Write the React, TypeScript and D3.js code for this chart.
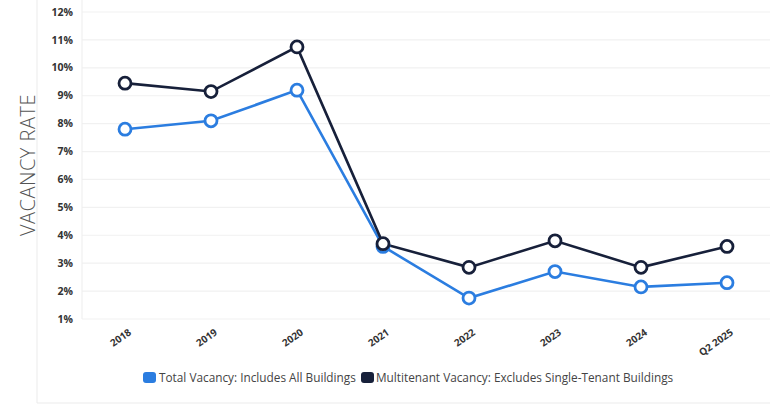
import React from "react";
import * as d3 from "d3";

const categories = ["2018", "2019", "2020", "2021", "2022", "2023", "2024", "Q2 2025"];
const totalVacancy = [7.8, 8.1, 9.2, 3.6, 1.75, 2.7, 2.15, 2.3];
const multitenantVacancy = [9.45, 9.15, 10.75, 3.7, 2.85, 3.8, 2.85, 3.6];
const yTicks = [1, 2, 3, 4, 5, 6, 7, 8, 9, 10, 11, 12];
const seriesNames = ["Total Vacancy: Includes All Buildings", "Multitenant Vacancy: Excludes Single-Tenant Buildings"];

const W = 770, H = 405;
const BLUE = "#2b7de0";
const NAVY = "#17203a";

export default function App() {
  const x = d3.scalePoint<string>().domain(categories).range([125, 727]);
  const y = d3.scaleLinear().domain([1, 12]).range([319, 12]);
  const line = d3.line<number>().x((_, i) => x(categories[i])!).y((d) => y(d));
  const series = [
    { name: seriesNames[0], values: totalVacancy, color: BLUE },
    { name: seriesNames[1], values: multitenantVacancy, color: NAVY },
  ];
  const font = "'Open Sans', 'Noto Sans', sans-serif";
  return (
    <svg width={W} height={H} style={{ position: "absolute", left: 0, top: 0, background: "#fff" }}>
      {/* frame */}
      <line x1={37} x2={37} y1={0} y2={403} stroke="#ebebeb" />
      <line x1={37} x2={W} y1={403} y2={403} stroke="#ebebeb" />
      {/* grid */}
      {yTicks.map((t) => (
        <line key={t} x1={82} x2={W} y1={y(t)} y2={y(t)} stroke="#f1f1f1" strokeWidth={1.2} />
      ))}
      <line x1={82} x2={82} y1={0} y2={319} stroke="#ededed" />
      {/* y tick labels */}
      {yTicks.map((t) => (
        <text key={t} x={73} y={y(t)} dy="0.35em" textAnchor="end" fontFamily={font} fontWeight={700} fontSize={10.5} fill="#333">
          {t}%
        </text>
      ))}
      {/* y title */}
      <text transform="translate(35,165) rotate(-90)" textAnchor="middle" fontFamily={font} fontWeight={300} fontSize={20} fill="#555" letterSpacing={0.5}>
        VACANCY RATE
      </text>
      {/* x tick labels */}
      {categories.map((c) => (
        <text key={c} transform={`translate(${x(c)! + 7},${334}) rotate(-35)`} textAnchor="end" fontFamily={font} fontWeight={700} fontSize={10} fill="#333">
          {c}
        </text>
      ))}
      {/* lines */}
      {series.map((s) => (
        <path key={s.name} d={line(s.values)!} fill="none" stroke={s.color} strokeWidth={2.6} />
      ))}
      {series.map((s) =>
        s.values.map((v, i) => (
          <circle key={s.name + i} cx={x(categories[i])} cy={y(v)} r={6} fill="#fff" stroke={s.color} strokeWidth={2.8} />
        ))
      )}
      {/* legend */}
      <rect x={143} y={372} width={13} height={11} rx={3} fill={BLUE} />
      <text x={159} y={377.5} dy="0.35em" fontFamily={font} fontSize={11.8} fill="#444">{seriesNames[0]}</text>
      <rect x={361} y={372} width={13} height={11} rx={3} fill={NAVY} />
      <text x={376} y={377.5} dy="0.35em" fontFamily={font} fontSize={11.8} fill="#444">{seriesNames[1]}</text>
    </svg>
  );
}
